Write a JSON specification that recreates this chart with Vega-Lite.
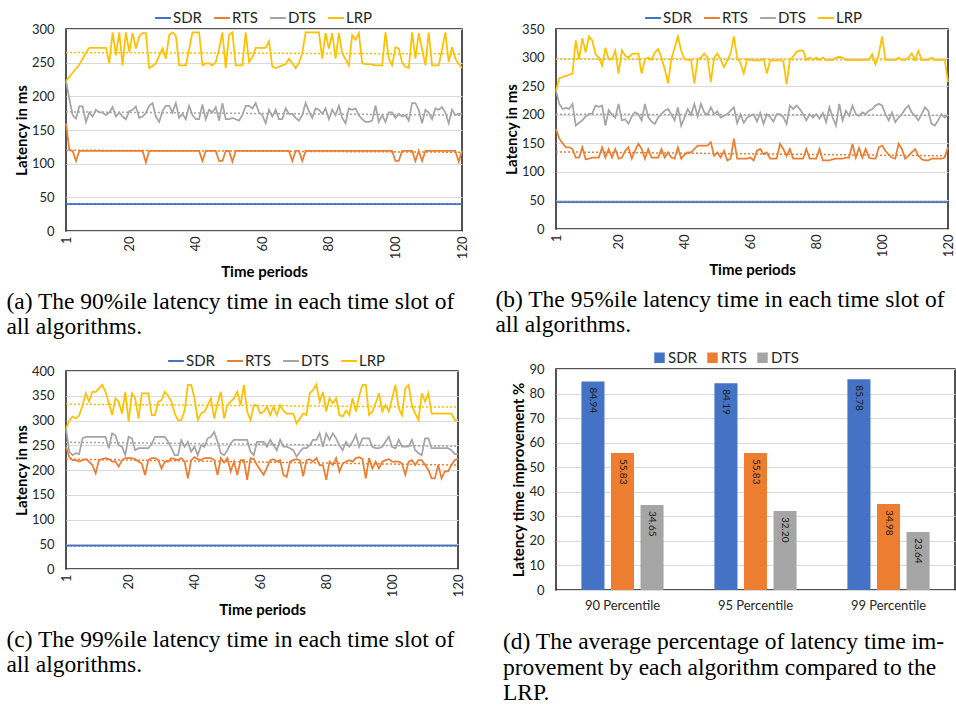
{
"$schema": "https://vega.github.io/schema/vega-lite/v6.json",
"background": "white",
"padding": {"left": 5, "top": 8, "right": 4, "bottom": 2},
"config": {
  "view": {"stroke": "#1a1a1a", "strokeWidth": 1.5},
  "axis": {"labelFont": "Lato", "labelFontSize": 13, "labelColor": "#262626", "titleFont": "Lato", "titleFontSize": 15, "titleFontWeight": "bold", "titleColor": "#000000", "domain": false, "ticks": false, "gridColor": "#d9d9d9", "gridWidth": 1, "labelFlush": false, "labelOverlap": false, "labelBound": false},
  "axisX": {"grid": false},
  "legend": {"labelFont": "Lato", "labelFontSize": 15, "labelColor": "#262626", "direction": "horizontal", "columnPadding": 8, "labelOffset": 1},
  "title": {"font": "Liberation Serif", "fontSize": 23.5, "fontWeight": "normal", "color": "#000000", "lineHeight": 25}
},
"datasets": {
  "a": [
{"t":1,"SDR":40,"RTS":160,"DTS":223,"LRP":223},{"t":2,"SDR":40,"RTS":120,"DTS":196,"LRP":229},{"t":3,"SDR":40,"RTS":119,"DTS":172,"LRP":235},{"t":4,"SDR":40,"RTS":104,"DTS":167,"LRP":241},{"t":5,"SDR":40,"RTS":119,"DTS":185,"LRP":247},
{"t":6,"SDR":40,"RTS":119,"DTS":185,"LRP":256},{"t":7,"SDR":40,"RTS":119,"DTS":162,"LRP":265},{"t":8,"SDR":40,"RTS":119,"DTS":176,"LRP":272},{"t":9,"SDR":40,"RTS":119,"DTS":170,"LRP":272},{"t":10,"SDR":40,"RTS":119,"DTS":180,"LRP":272},
{"t":11,"SDR":40,"RTS":119,"DTS":176,"LRP":272},{"t":12,"SDR":40,"RTS":119,"DTS":176,"LRP":272},{"t":13,"SDR":40,"RTS":119,"DTS":172,"LRP":272},{"t":14,"SDR":40,"RTS":119,"DTS":176,"LRP":249},{"t":15,"SDR":40,"RTS":119,"DTS":184,"LRP":295},
{"t":16,"SDR":40,"RTS":119,"DTS":170,"LRP":261},{"t":17,"SDR":40,"RTS":119,"DTS":176,"LRP":295},{"t":18,"SDR":40,"RTS":119,"DTS":170,"LRP":246},{"t":19,"SDR":40,"RTS":119,"DTS":166,"LRP":295},{"t":20,"SDR":40,"RTS":119,"DTS":178,"LRP":266},
{"t":21,"SDR":40,"RTS":119,"DTS":180,"LRP":294},{"t":22,"SDR":40,"RTS":119,"DTS":185,"LRP":271},{"t":23,"SDR":40,"RTS":119,"DTS":168,"LRP":289},{"t":24,"SDR":40,"RTS":119,"DTS":170,"LRP":294},{"t":25,"SDR":40,"RTS":102,"DTS":175,"LRP":294},
{"t":26,"SDR":40,"RTS":119,"DTS":186,"LRP":242},{"t":27,"SDR":40,"RTS":119,"DTS":190,"LRP":245},{"t":28,"SDR":40,"RTS":119,"DTS":170,"LRP":249},{"t":29,"SDR":40,"RTS":119,"DTS":162,"LRP":260},{"t":30,"SDR":40,"RTS":119,"DTS":178,"LRP":271},
{"t":31,"SDR":40,"RTS":119,"DTS":186,"LRP":256},{"t":32,"SDR":40,"RTS":119,"DTS":186,"LRP":291},{"t":33,"SDR":40,"RTS":119,"DTS":176,"LRP":295},{"t":34,"SDR":40,"RTS":119,"DTS":190,"LRP":290},{"t":35,"SDR":40,"RTS":119,"DTS":168,"LRP":246},
{"t":36,"SDR":40,"RTS":119,"DTS":174,"LRP":246},{"t":37,"SDR":40,"RTS":119,"DTS":166,"LRP":246},{"t":38,"SDR":40,"RTS":119,"DTS":186,"LRP":270},{"t":39,"SDR":40,"RTS":119,"DTS":172,"LRP":295},{"t":40,"SDR":40,"RTS":119,"DTS":166,"LRP":295},
{"t":41,"SDR":40,"RTS":119,"DTS":166,"LRP":295},{"t":42,"SDR":40,"RTS":104,"DTS":188,"LRP":246},{"t":43,"SDR":40,"RTS":119,"DTS":166,"LRP":249},{"t":44,"SDR":40,"RTS":119,"DTS":180,"LRP":249},{"t":45,"SDR":40,"RTS":119,"DTS":176,"LRP":246},
{"t":46,"SDR":40,"RTS":119,"DTS":184,"LRP":251},{"t":47,"SDR":40,"RTS":104,"DTS":164,"LRP":270},{"t":48,"SDR":40,"RTS":104,"DTS":190,"LRP":295},{"t":49,"SDR":40,"RTS":119,"DTS":166,"LRP":242},{"t":50,"SDR":40,"RTS":119,"DTS":166,"LRP":291},
{"t":51,"SDR":40,"RTS":103,"DTS":168,"LRP":295},{"t":52,"SDR":40,"RTS":119,"DTS":166,"LRP":246},{"t":53,"SDR":40,"RTS":119,"DTS":164,"LRP":246},{"t":54,"SDR":40,"RTS":119,"DTS":172,"LRP":246},{"t":55,"SDR":40,"RTS":119,"DTS":186,"LRP":295},
{"t":56,"SDR":40,"RTS":119,"DTS":186,"LRP":251},{"t":57,"SDR":40,"RTS":119,"DTS":182,"LRP":258},{"t":58,"SDR":40,"RTS":119,"DTS":190,"LRP":272},{"t":59,"SDR":40,"RTS":119,"DTS":176,"LRP":272},{"t":60,"SDR":40,"RTS":119,"DTS":172,"LRP":272},
{"t":61,"SDR":40,"RTS":119,"DTS":160,"LRP":272},{"t":62,"SDR":40,"RTS":119,"DTS":180,"LRP":282},{"t":63,"SDR":40,"RTS":119,"DTS":170,"LRP":244},{"t":64,"SDR":40,"RTS":119,"DTS":180,"LRP":242},{"t":65,"SDR":40,"RTS":119,"DTS":166,"LRP":244},
{"t":66,"SDR":40,"RTS":119,"DTS":166,"LRP":246},{"t":67,"SDR":40,"RTS":119,"DTS":182,"LRP":248},{"t":68,"SDR":40,"RTS":119,"DTS":174,"LRP":256},{"t":69,"SDR":40,"RTS":104,"DTS":174,"LRP":249},{"t":70,"SDR":40,"RTS":119,"DTS":168,"LRP":242},
{"t":71,"SDR":40,"RTS":119,"DTS":164,"LRP":250},{"t":72,"SDR":40,"RTS":104,"DTS":172,"LRP":264},{"t":73,"SDR":40,"RTS":119,"DTS":190,"LRP":295},{"t":74,"SDR":40,"RTS":119,"DTS":178,"LRP":295},{"t":75,"SDR":40,"RTS":119,"DTS":168,"LRP":295},
{"t":76,"SDR":40,"RTS":119,"DTS":182,"LRP":295},{"t":77,"SDR":40,"RTS":119,"DTS":180,"LRP":295},{"t":78,"SDR":40,"RTS":119,"DTS":174,"LRP":256},{"t":79,"SDR":40,"RTS":119,"DTS":182,"LRP":294},{"t":80,"SDR":40,"RTS":119,"DTS":166,"LRP":271},
{"t":81,"SDR":40,"RTS":119,"DTS":180,"LRP":294},{"t":82,"SDR":40,"RTS":119,"DTS":172,"LRP":256},{"t":83,"SDR":40,"RTS":119,"DTS":186,"LRP":294},{"t":84,"SDR":40,"RTS":119,"DTS":168,"LRP":264},{"t":85,"SDR":40,"RTS":119,"DTS":160,"LRP":255},
{"t":86,"SDR":40,"RTS":119,"DTS":182,"LRP":246},{"t":87,"SDR":40,"RTS":119,"DTS":180,"LRP":291},{"t":88,"SDR":40,"RTS":119,"DTS":182,"LRP":284},{"t":89,"SDR":40,"RTS":119,"DTS":172,"LRP":294},{"t":90,"SDR":40,"RTS":119,"DTS":166,"LRP":249},
{"t":91,"SDR":40,"RTS":119,"DTS":162,"LRP":248},{"t":92,"SDR":40,"RTS":119,"DTS":162,"LRP":248},{"t":93,"SDR":40,"RTS":119,"DTS":164,"LRP":247},{"t":94,"SDR":40,"RTS":119,"DTS":186,"LRP":246},{"t":95,"SDR":40,"RTS":119,"DTS":162,"LRP":246},
{"t":96,"SDR":40,"RTS":119,"DTS":172,"LRP":246},{"t":97,"SDR":40,"RTS":119,"DTS":162,"LRP":295},{"t":98,"SDR":40,"RTS":119,"DTS":176,"LRP":256},{"t":99,"SDR":40,"RTS":119,"DTS":176,"LRP":246},{"t":100,"SDR":40,"RTS":104,"DTS":168,"LRP":273},
{"t":101,"SDR":40,"RTS":104,"DTS":174,"LRP":271},{"t":102,"SDR":40,"RTS":119,"DTS":170,"LRP":250},{"t":103,"SDR":40,"RTS":119,"DTS":172,"LRP":244},{"t":104,"SDR":40,"RTS":119,"DTS":164,"LRP":242},{"t":105,"SDR":40,"RTS":119,"DTS":190,"LRP":295},
{"t":106,"SDR":40,"RTS":104,"DTS":190,"LRP":256},{"t":107,"SDR":40,"RTS":119,"DTS":180,"LRP":294},{"t":108,"SDR":40,"RTS":104,"DTS":160,"LRP":270},{"t":109,"SDR":40,"RTS":119,"DTS":180,"LRP":246},{"t":110,"SDR":40,"RTS":119,"DTS":176,"LRP":295},
{"t":111,"SDR":40,"RTS":119,"DTS":166,"LRP":246},{"t":112,"SDR":40,"RTS":119,"DTS":182,"LRP":246},{"t":113,"SDR":40,"RTS":119,"DTS":180,"LRP":246},{"t":114,"SDR":40,"RTS":119,"DTS":184,"LRP":270},{"t":115,"SDR":40,"RTS":119,"DTS":176,"LRP":295},
{"t":116,"SDR":40,"RTS":119,"DTS":160,"LRP":251},{"t":117,"SDR":40,"RTS":119,"DTS":180,"LRP":273},{"t":118,"SDR":40,"RTS":119,"DTS":172,"LRP":256},{"t":119,"SDR":40,"RTS":103,"DTS":174,"LRP":248},{"t":120,"SDR":40,"RTS":119,"DTS":174,"LRP":242}
  ],
  "b": [
{"t":1,"SDR":47,"RTS":175,"DTS":242,"LRP":242},{"t":2,"SDR":47,"RTS":158,"DTS":219,"LRP":264},{"t":3,"SDR":47,"RTS":150,"DTS":210,"LRP":266},{"t":4,"SDR":47,"RTS":143,"DTS":212,"LRP":268},{"t":5,"SDR":47,"RTS":143,"DTS":210,"LRP":270},
{"t":6,"SDR":47,"RTS":140,"DTS":219,"LRP":272},{"t":7,"SDR":47,"RTS":125,"DTS":181,"LRP":330},{"t":8,"SDR":47,"RTS":125,"DTS":186,"LRP":297},{"t":9,"SDR":47,"RTS":143,"DTS":190,"LRP":334},{"t":10,"SDR":47,"RTS":122,"DTS":197,"LRP":309},
{"t":11,"SDR":47,"RTS":123,"DTS":201,"LRP":337},{"t":12,"SDR":47,"RTS":125,"DTS":202,"LRP":330},{"t":13,"SDR":47,"RTS":125,"DTS":216,"LRP":306},{"t":14,"SDR":47,"RTS":125,"DTS":214,"LRP":300},{"t":15,"SDR":47,"RTS":143,"DTS":216,"LRP":286},
{"t":16,"SDR":47,"RTS":125,"DTS":181,"LRP":317},{"t":17,"SDR":47,"RTS":140,"DTS":208,"LRP":297},{"t":18,"SDR":47,"RTS":125,"DTS":200,"LRP":297},{"t":19,"SDR":47,"RTS":140,"DTS":195,"LRP":312},{"t":20,"SDR":47,"RTS":123,"DTS":219,"LRP":272},
{"t":21,"SDR":47,"RTS":125,"DTS":190,"LRP":313},{"t":22,"SDR":47,"RTS":137,"DTS":192,"LRP":303},{"t":23,"SDR":47,"RTS":143,"DTS":184,"LRP":300},{"t":24,"SDR":47,"RTS":123,"DTS":197,"LRP":306},{"t":25,"SDR":47,"RTS":137,"DTS":204,"LRP":307},
{"t":26,"SDR":47,"RTS":149,"DTS":201,"LRP":307},{"t":27,"SDR":47,"RTS":140,"DTS":190,"LRP":272},{"t":28,"SDR":47,"RTS":123,"DTS":219,"LRP":297},{"t":29,"SDR":47,"RTS":140,"DTS":196,"LRP":300},{"t":30,"SDR":47,"RTS":125,"DTS":188,"LRP":296},
{"t":31,"SDR":47,"RTS":125,"DTS":184,"LRP":309},{"t":32,"SDR":47,"RTS":125,"DTS":195,"LRP":315},{"t":33,"SDR":47,"RTS":140,"DTS":201,"LRP":300},{"t":34,"SDR":47,"RTS":125,"DTS":207,"LRP":280},{"t":35,"SDR":47,"RTS":134,"DTS":210,"LRP":255},
{"t":36,"SDR":47,"RTS":125,"DTS":201,"LRP":297},{"t":37,"SDR":47,"RTS":123,"DTS":190,"LRP":317},{"t":38,"SDR":47,"RTS":143,"DTS":213,"LRP":337},{"t":39,"SDR":47,"RTS":123,"DTS":181,"LRP":312},{"t":40,"SDR":47,"RTS":130,"DTS":195,"LRP":297},
{"t":41,"SDR":47,"RTS":134,"DTS":210,"LRP":296},{"t":42,"SDR":47,"RTS":134,"DTS":200,"LRP":296},{"t":43,"SDR":47,"RTS":140,"DTS":219,"LRP":255},{"t":44,"SDR":47,"RTS":146,"DTS":197,"LRP":297},{"t":45,"SDR":47,"RTS":146,"DTS":219,"LRP":300},
{"t":46,"SDR":47,"RTS":146,"DTS":204,"LRP":307},{"t":47,"SDR":47,"RTS":146,"DTS":200,"LRP":300},{"t":48,"SDR":47,"RTS":152,"DTS":213,"LRP":257},{"t":49,"SDR":47,"RTS":128,"DTS":201,"LRP":300},{"t":50,"SDR":47,"RTS":134,"DTS":206,"LRP":307},
{"t":51,"SDR":47,"RTS":125,"DTS":195,"LRP":296},{"t":52,"SDR":47,"RTS":137,"DTS":198,"LRP":283},{"t":53,"SDR":47,"RTS":120,"DTS":201,"LRP":295},{"t":54,"SDR":47,"RTS":123,"DTS":207,"LRP":307},{"t":55,"SDR":47,"RTS":158,"DTS":213,"LRP":337},
{"t":56,"SDR":47,"RTS":123,"DTS":185,"LRP":300},{"t":57,"SDR":47,"RTS":123,"DTS":201,"LRP":290},{"t":58,"SDR":47,"RTS":123,"DTS":186,"LRP":272},{"t":59,"SDR":47,"RTS":123,"DTS":195,"LRP":297},{"t":60,"SDR":47,"RTS":125,"DTS":198,"LRP":296},
{"t":61,"SDR":47,"RTS":120,"DTS":201,"LRP":295},{"t":62,"SDR":47,"RTS":137,"DTS":188,"LRP":295},{"t":63,"SDR":47,"RTS":140,"DTS":203,"LRP":295},{"t":64,"SDR":47,"RTS":131,"DTS":184,"LRP":298},{"t":65,"SDR":47,"RTS":134,"DTS":201,"LRP":272},
{"t":66,"SDR":47,"RTS":123,"DTS":196,"LRP":295},{"t":67,"SDR":47,"RTS":123,"DTS":188,"LRP":295},{"t":68,"SDR":47,"RTS":123,"DTS":201,"LRP":295},{"t":69,"SDR":47,"RTS":149,"DTS":201,"LRP":295},{"t":70,"SDR":47,"RTS":140,"DTS":196,"LRP":294},
{"t":71,"SDR":47,"RTS":128,"DTS":184,"LRP":253},{"t":72,"SDR":47,"RTS":140,"DTS":216,"LRP":296},{"t":73,"SDR":47,"RTS":123,"DTS":210,"LRP":302},{"t":74,"SDR":47,"RTS":123,"DTS":216,"LRP":310},{"t":75,"SDR":47,"RTS":123,"DTS":210,"LRP":312},
{"t":76,"SDR":47,"RTS":123,"DTS":201,"LRP":312},{"t":77,"SDR":47,"RTS":140,"DTS":190,"LRP":296},{"t":78,"SDR":47,"RTS":123,"DTS":201,"LRP":300},{"t":79,"SDR":47,"RTS":123,"DTS":195,"LRP":296},{"t":80,"SDR":47,"RTS":123,"DTS":201,"LRP":300},
{"t":81,"SDR":47,"RTS":140,"DTS":193,"LRP":296},{"t":82,"SDR":47,"RTS":120,"DTS":203,"LRP":300},{"t":83,"SDR":47,"RTS":120,"DTS":187,"LRP":295},{"t":84,"SDR":47,"RTS":120,"DTS":213,"LRP":296},{"t":85,"SDR":47,"RTS":122,"DTS":195,"LRP":296},
{"t":86,"SDR":47,"RTS":123,"DTS":181,"LRP":300},{"t":87,"SDR":47,"RTS":123,"DTS":219,"LRP":301},{"t":88,"SDR":47,"RTS":123,"DTS":190,"LRP":300},{"t":89,"SDR":47,"RTS":125,"DTS":207,"LRP":296},{"t":90,"SDR":47,"RTS":125,"DTS":198,"LRP":296},
{"t":91,"SDR":47,"RTS":149,"DTS":216,"LRP":296},{"t":92,"SDR":47,"RTS":125,"DTS":201,"LRP":296},{"t":93,"SDR":47,"RTS":142,"DTS":198,"LRP":296},{"t":94,"SDR":47,"RTS":125,"DTS":204,"LRP":296},{"t":95,"SDR":47,"RTS":140,"DTS":201,"LRP":296},
{"t":96,"SDR":47,"RTS":125,"DTS":207,"LRP":296},{"t":97,"SDR":47,"RTS":123,"DTS":210,"LRP":306},{"t":98,"SDR":47,"RTS":123,"DTS":216,"LRP":288},{"t":99,"SDR":47,"RTS":143,"DTS":219,"LRP":306},{"t":100,"SDR":47,"RTS":146,"DTS":216,"LRP":337},
{"t":101,"SDR":47,"RTS":137,"DTS":201,"LRP":296},{"t":102,"SDR":47,"RTS":130,"DTS":190,"LRP":296},{"t":103,"SDR":47,"RTS":125,"DTS":204,"LRP":296},{"t":104,"SDR":47,"RTS":123,"DTS":187,"LRP":296},{"t":105,"SDR":47,"RTS":149,"DTS":195,"LRP":300},
{"t":106,"SDR":47,"RTS":140,"DTS":201,"LRP":296},{"t":107,"SDR":47,"RTS":123,"DTS":210,"LRP":296},{"t":108,"SDR":47,"RTS":128,"DTS":216,"LRP":300},{"t":109,"SDR":47,"RTS":134,"DTS":204,"LRP":307},{"t":110,"SDR":47,"RTS":140,"DTS":198,"LRP":296},
{"t":111,"SDR":47,"RTS":128,"DTS":190,"LRP":312},{"t":112,"SDR":47,"RTS":122,"DTS":201,"LRP":296},{"t":113,"SDR":47,"RTS":120,"DTS":213,"LRP":296},{"t":114,"SDR":47,"RTS":120,"DTS":207,"LRP":296},{"t":115,"SDR":47,"RTS":123,"DTS":184,"LRP":300},
{"t":116,"SDR":47,"RTS":123,"DTS":181,"LRP":296},{"t":117,"SDR":47,"RTS":123,"DTS":190,"LRP":296},{"t":118,"SDR":47,"RTS":123,"DTS":201,"LRP":296},{"t":119,"SDR":47,"RTS":125,"DTS":195,"LRP":296},{"t":120,"SDR":47,"RTS":143,"DTS":200,"LRP":257}
  ],
  "c": [
{"t":1,"SDR":47,"RTS":247,"DTS":284,"LRP":284},{"t":2,"SDR":47,"RTS":226,"DTS":237,"LRP":300},{"t":3,"SDR":47,"RTS":220,"DTS":230,"LRP":308},{"t":4,"SDR":47,"RTS":220,"DTS":234,"LRP":304},{"t":5,"SDR":47,"RTS":217,"DTS":232,"LRP":310},
{"t":6,"SDR":47,"RTS":220,"DTS":264,"LRP":330},{"t":7,"SDR":47,"RTS":222,"DTS":267,"LRP":355},{"t":8,"SDR":47,"RTS":217,"DTS":267,"LRP":338},{"t":9,"SDR":47,"RTS":210,"DTS":267,"LRP":358},{"t":10,"SDR":47,"RTS":193,"DTS":267,"LRP":358},
{"t":11,"SDR":47,"RTS":220,"DTS":267,"LRP":365},{"t":12,"SDR":47,"RTS":222,"DTS":267,"LRP":372},{"t":13,"SDR":47,"RTS":224,"DTS":267,"LRP":358},{"t":14,"SDR":47,"RTS":222,"DTS":244,"LRP":335},{"t":15,"SDR":47,"RTS":217,"DTS":274,"LRP":311},
{"t":16,"SDR":47,"RTS":217,"DTS":270,"LRP":345},{"t":17,"SDR":47,"RTS":207,"DTS":250,"LRP":338},{"t":18,"SDR":47,"RTS":220,"DTS":247,"LRP":314},{"t":19,"SDR":47,"RTS":224,"DTS":230,"LRP":358},{"t":20,"SDR":47,"RTS":224,"DTS":267,"LRP":298},
{"t":21,"SDR":47,"RTS":224,"DTS":264,"LRP":355},{"t":22,"SDR":47,"RTS":222,"DTS":240,"LRP":345},{"t":23,"SDR":47,"RTS":217,"DTS":244,"LRP":304},{"t":24,"SDR":47,"RTS":213,"DTS":244,"LRP":355},{"t":25,"SDR":47,"RTS":190,"DTS":244,"LRP":355},
{"t":26,"SDR":47,"RTS":220,"DTS":244,"LRP":355},{"t":27,"SDR":47,"RTS":224,"DTS":252,"LRP":311},{"t":28,"SDR":47,"RTS":224,"DTS":267,"LRP":311},{"t":29,"SDR":47,"RTS":220,"DTS":267,"LRP":338},{"t":30,"SDR":47,"RTS":203,"DTS":267,"LRP":341},
{"t":31,"SDR":47,"RTS":217,"DTS":267,"LRP":358},{"t":32,"SDR":47,"RTS":217,"DTS":257,"LRP":350},{"t":33,"SDR":47,"RTS":224,"DTS":244,"LRP":338},{"t":34,"SDR":47,"RTS":222,"DTS":230,"LRP":314},{"t":35,"SDR":47,"RTS":220,"DTS":230,"LRP":301},
{"t":36,"SDR":47,"RTS":224,"DTS":260,"LRP":301},{"t":37,"SDR":47,"RTS":217,"DTS":247,"LRP":320},{"t":38,"SDR":47,"RTS":183,"DTS":257,"LRP":372},{"t":39,"SDR":47,"RTS":220,"DTS":237,"LRP":372},{"t":40,"SDR":47,"RTS":226,"DTS":247,"LRP":345},
{"t":41,"SDR":47,"RTS":222,"DTS":230,"LRP":301},{"t":42,"SDR":47,"RTS":220,"DTS":250,"LRP":314},{"t":43,"SDR":47,"RTS":224,"DTS":247,"LRP":318},{"t":44,"SDR":47,"RTS":224,"DTS":264,"LRP":330},{"t":45,"SDR":47,"RTS":224,"DTS":267,"LRP":345},
{"t":46,"SDR":47,"RTS":220,"DTS":277,"LRP":304},{"t":47,"SDR":47,"RTS":190,"DTS":257,"LRP":335},{"t":48,"SDR":47,"RTS":224,"DTS":234,"LRP":358},{"t":49,"SDR":47,"RTS":215,"DTS":230,"LRP":304},{"t":50,"SDR":47,"RTS":224,"DTS":240,"LRP":331},
{"t":51,"SDR":47,"RTS":197,"DTS":254,"LRP":338},{"t":52,"SDR":47,"RTS":217,"DTS":261,"LRP":345},{"t":53,"SDR":47,"RTS":190,"DTS":261,"LRP":358},{"t":54,"SDR":47,"RTS":220,"DTS":261,"LRP":331},{"t":55,"SDR":47,"RTS":220,"DTS":261,"LRP":372},
{"t":56,"SDR":47,"RTS":180,"DTS":261,"LRP":318},{"t":57,"SDR":47,"RTS":224,"DTS":237,"LRP":301},{"t":58,"SDR":47,"RTS":222,"DTS":230,"LRP":331},{"t":59,"SDR":47,"RTS":210,"DTS":257,"LRP":330},{"t":60,"SDR":47,"RTS":200,"DTS":257,"LRP":314},
{"t":61,"SDR":47,"RTS":190,"DTS":257,"LRP":318},{"t":62,"SDR":47,"RTS":205,"DTS":247,"LRP":328},{"t":63,"SDR":47,"RTS":220,"DTS":261,"LRP":311},{"t":64,"SDR":47,"RTS":222,"DTS":250,"LRP":328},{"t":65,"SDR":47,"RTS":217,"DTS":240,"LRP":311},
{"t":66,"SDR":47,"RTS":220,"DTS":261,"LRP":331},{"t":67,"SDR":47,"RTS":190,"DTS":247,"LRP":320},{"t":68,"SDR":47,"RTS":186,"DTS":247,"LRP":314},{"t":69,"SDR":47,"RTS":217,"DTS":244,"LRP":314},{"t":70,"SDR":47,"RTS":220,"DTS":240,"LRP":314},
{"t":71,"SDR":47,"RTS":222,"DTS":227,"LRP":294},{"t":72,"SDR":47,"RTS":220,"DTS":237,"LRP":304},{"t":73,"SDR":47,"RTS":187,"DTS":244,"LRP":314},{"t":74,"SDR":47,"RTS":220,"DTS":244,"LRP":311},{"t":75,"SDR":47,"RTS":222,"DTS":250,"LRP":355},
{"t":76,"SDR":47,"RTS":217,"DTS":261,"LRP":362},{"t":77,"SDR":47,"RTS":224,"DTS":261,"LRP":372},{"t":78,"SDR":47,"RTS":210,"DTS":274,"LRP":338},{"t":79,"SDR":47,"RTS":210,"DTS":247,"LRP":358},{"t":80,"SDR":47,"RTS":180,"DTS":274,"LRP":318},
{"t":81,"SDR":47,"RTS":217,"DTS":261,"LRP":345},{"t":82,"SDR":47,"RTS":210,"DTS":274,"LRP":335},{"t":83,"SDR":47,"RTS":224,"DTS":264,"LRP":345},{"t":84,"SDR":47,"RTS":197,"DTS":250,"LRP":311},{"t":85,"SDR":47,"RTS":213,"DTS":240,"LRP":308},
{"t":86,"SDR":47,"RTS":217,"DTS":257,"LRP":320},{"t":87,"SDR":47,"RTS":220,"DTS":247,"LRP":311},{"t":88,"SDR":47,"RTS":217,"DTS":257,"LRP":345},{"t":89,"SDR":47,"RTS":224,"DTS":271,"LRP":318},{"t":90,"SDR":47,"RTS":226,"DTS":247,"LRP":350},
{"t":91,"SDR":47,"RTS":222,"DTS":264,"LRP":372},{"t":92,"SDR":47,"RTS":183,"DTS":264,"LRP":372},{"t":93,"SDR":47,"RTS":224,"DTS":264,"LRP":311},{"t":94,"SDR":47,"RTS":203,"DTS":247,"LRP":318},{"t":95,"SDR":47,"RTS":217,"DTS":244,"LRP":335},
{"t":96,"SDR":47,"RTS":203,"DTS":244,"LRP":355},{"t":97,"SDR":47,"RTS":217,"DTS":247,"LRP":318},{"t":98,"SDR":47,"RTS":220,"DTS":257,"LRP":331},{"t":99,"SDR":47,"RTS":222,"DTS":267,"LRP":318},{"t":100,"SDR":47,"RTS":217,"DTS":247,"LRP":345},
{"t":101,"SDR":47,"RTS":217,"DTS":244,"LRP":372},{"t":102,"SDR":47,"RTS":217,"DTS":261,"LRP":325},{"t":103,"SDR":47,"RTS":213,"DTS":247,"LRP":311},{"t":104,"SDR":47,"RTS":190,"DTS":247,"LRP":365},{"t":105,"SDR":47,"RTS":217,"DTS":247,"LRP":372},
{"t":106,"SDR":47,"RTS":220,"DTS":261,"LRP":331},{"t":107,"SDR":47,"RTS":210,"DTS":240,"LRP":314},{"t":108,"SDR":47,"RTS":220,"DTS":234,"LRP":301},{"t":109,"SDR":47,"RTS":220,"DTS":230,"LRP":355},{"t":110,"SDR":47,"RTS":210,"DTS":264,"LRP":338},
{"t":111,"SDR":47,"RTS":200,"DTS":264,"LRP":355},{"t":112,"SDR":47,"RTS":183,"DTS":244,"LRP":314},{"t":113,"SDR":47,"RTS":183,"DTS":244,"LRP":314},{"t":114,"SDR":47,"RTS":210,"DTS":244,"LRP":314},{"t":115,"SDR":47,"RTS":183,"DTS":244,"LRP":314},
{"t":116,"SDR":47,"RTS":197,"DTS":244,"LRP":314},{"t":117,"SDR":47,"RTS":197,"DTS":244,"LRP":314},{"t":118,"SDR":47,"RTS":210,"DTS":240,"LRP":314},{"t":119,"SDR":47,"RTS":220,"DTS":232,"LRP":301},{"t":120,"SDR":47,"RTS":222,"DTS":232,"LRP":301}
  ],
  "ta": [
{"t":1,"s":"SDR","v":40},{"t":120,"s":"SDR","v":40},{"t":1,"s":"RTS","v":120},{"t":120,"s":"RTS","v":117},
{"t":1,"s":"DTS","v":177},{"t":120,"s":"DTS","v":172},{"t":1,"s":"LRP","v":265},{"t":120,"s":"LRP","v":263}
  ],
  "tb": [
{"t":1,"s":"SDR","v":47},{"t":120,"s":"SDR","v":47},{"t":1,"s":"RTS","v":135},{"t":120,"s":"RTS","v":128},
{"t":1,"s":"DTS","v":201},{"t":120,"s":"DTS","v":199},{"t":1,"s":"LRP","v":297},{"t":120,"s":"LRP","v":296}
  ],
  "tc": [
{"t":1,"s":"SDR","v":47},{"t":120,"s":"SDR","v":47},{"t":1,"s":"RTS","v":222},{"t":120,"s":"RTS","v":210},
{"t":1,"s":"DTS","v":256},{"t":120,"s":"DTS","v":248},{"t":1,"s":"LRP","v":333},{"t":120,"s":"LRP","v":327}
  ],
  "d": [
{"g":"90 Percentile","s":"SDR","v":84.94},{"g":"90 Percentile","s":"RTS","v":55.83},{"g":"90 Percentile","s":"DTS","v":34.65},
{"g":"95 Percentile","s":"SDR","v":84.19},{"g":"95 Percentile","s":"RTS","v":55.83},{"g":"95 Percentile","s":"DTS","v":32.20},
{"g":"99 Percentile","s":"SDR","v":85.78},{"g":"99 Percentile","s":"RTS","v":34.98},{"g":"99 Percentile","s":"DTS","v":23.64}
  ]
},
"resolve": {"scale": {"color": "independent", "x": "independent", "y": "independent"}, "legend": {"color": "independent"}},
"spacing": 24,
"hconcat": [
  {
    "spacing": 12,
    "resolve": {"scale": {"color": "independent", "x": "independent", "y": "independent"}, "legend": {"color": "independent"}},
    "vconcat": [
      {
        "width": 396, "height": 202,
        "title": {"text": ["(a) The 90%ile latency time in each time slot of", "all algorithms."], "orient": "bottom", "anchor": "start", "offset": 10, "dx": -8},
        "encoding": {
          "x": {"field": "t", "type": "quantitative", "scale": {"domain": [1, 120], "nice": false, "zero": false}, "axis": {"values": [1, 20, 40, 60, 80, 100, 120], "labelAngle": -90, "labelPadding": 5, "title": "Time periods", "titlePadding": 6}},
          "y": {"field": "v", "type": "quantitative", "scale": {"domain": [0, 300], "nice": false}, "axis": {"values": [0, 50, 100, 150, 200, 250, 300], "title": "Latency in ms", "labelPadding": 12, "titlePadding": 2}},
          "color": {"field": "s", "type": "nominal", "scale": {"domain": ["SDR", "RTS", "DTS", "LRP"], "range": ["#4472C4", "#ED7D31", "#A5A5A5", "#FFC000"]}, "legend": {"title": null, "orient": "none", "legendX": 88, "legendY": -20, "symbolType": "stroke", "symbolSize": 250, "symbolStrokeWidth": 2, "symbolDash": [1, 0]}}
        },
        "layer": [
          {"data": {"name": "a"}, "transform": [{"fold": ["SDR", "RTS", "DTS", "LRP"], "as": ["s", "v"]}], "mark": {"type": "line", "strokeWidth": 1.75}, "encoding": {}},
          {"data": {"name": "ta"}, "mark": {"type": "line", "strokeWidth": 1.5, "strokeDash": [2, 2]}, "encoding": {}}
        ]
      },
      {
        "width": 392, "height": 198,
        "title": {"text": ["(c) The 99%ile latency time in each time slot of", "all algorithms."], "orient": "bottom", "anchor": "start", "offset": 10, "dx": -8},
        "encoding": {
          "x": {"field": "t", "type": "quantitative", "scale": {"domain": [1, 120], "nice": false, "zero": false}, "axis": {"values": [1, 20, 40, 60, 80, 100, 120], "labelAngle": -90, "labelPadding": 5, "title": "Time periods", "titlePadding": 6}},
          "y": {"field": "v", "type": "quantitative", "scale": {"domain": [0, 400], "nice": false}, "axis": {"values": [0, 50, 100, 150, 200, 250, 300, 350, 400], "title": "Latency in ms", "labelPadding": 12, "titlePadding": 2}},
          "color": {"field": "s", "type": "nominal", "scale": {"domain": ["SDR", "RTS", "DTS", "LRP"], "range": ["#4472C4", "#ED7D31", "#A5A5A5", "#FFC000"]}, "legend": {"title": null, "orient": "none", "legendX": 101, "legendY": -19, "symbolType": "stroke", "symbolSize": 250, "symbolStrokeWidth": 2, "symbolDash": [1, 0]}}
        },
        "layer": [
          {"data": {"name": "c"}, "transform": [{"fold": ["SDR", "RTS", "DTS", "LRP"], "as": ["s", "v"]}], "mark": {"type": "line", "strokeWidth": 1.75}, "encoding": {}},
          {"data": {"name": "tc"}, "mark": {"type": "line", "strokeWidth": 1.5, "strokeDash": [2, 2]}, "encoding": {}}
        ]
      }
    ]
  },
  {
    "spacing": 12,
    "resolve": {"scale": {"color": "independent", "x": "independent", "y": "independent"}, "legend": {"color": "independent"}},
    "vconcat": [
      {
        "width": 392, "height": 200,
        "title": {"text": ["(b) The 95%ile latency time in each time slot of", "all algorithms."], "orient": "bottom", "anchor": "start", "offset": 10, "dx": -9},
        "encoding": {
          "x": {"field": "t", "type": "quantitative", "scale": {"domain": [1, 120], "nice": false, "zero": false}, "axis": {"values": [1, 20, 40, 60, 80, 100, 120], "labelAngle": -90, "labelPadding": 5, "title": "Time periods", "titlePadding": 6}},
          "y": {"field": "v", "type": "quantitative", "scale": {"domain": [0, 350], "nice": false}, "axis": {"values": [0, 50, 100, 150, 200, 250, 300, 350], "title": "Latency in ms", "labelPadding": 12, "titlePadding": 2}},
          "color": {"field": "s", "type": "nominal", "scale": {"domain": ["SDR", "RTS", "DTS", "LRP"], "range": ["#4472C4", "#ED7D31", "#A5A5A5", "#FFC000"]}, "legend": {"title": null, "orient": "none", "legendX": 88, "legendY": -20, "symbolType": "stroke", "symbolSize": 250, "symbolStrokeWidth": 2, "symbolDash": [1, 0]}}
        },
        "layer": [
          {"data": {"name": "b"}, "transform": [{"fold": ["SDR", "RTS", "DTS", "LRP"], "as": ["s", "v"]}], "mark": {"type": "line", "strokeWidth": 1.75}, "encoding": {}},
          {"data": {"name": "tb"}, "mark": {"type": "line", "strokeWidth": 1.5, "strokeDash": [2, 2]}, "encoding": {}}
        ]
      },
      {
        "width": 399, "height": 221,
        "data": {"name": "d"},
        "title": {"text": ["(d) The average percentage of latency time im-", "provement by each algorithm compared to the", "LRP."], "orient": "bottom", "anchor": "start", "offset": 18, "dx": -9, "lineHeight": 25.5},
        "encoding": {
          "x": {"field": "g", "type": "nominal", "sort": null, "scale": {"paddingInner": 0, "paddingOuter": 0}, "axis": {"title": null, "labelAngle": 0, "labelPadding": 9}},
          "xOffset": {"field": "s", "type": "nominal", "sort": ["SDR", "RTS", "DTS"], "scale": {"paddingInner": 0.22, "paddingOuter": 0.86}},
          "y": {"field": "v", "type": "quantitative", "scale": {"domain": [0, 90], "nice": false}, "axis": {"values": [0, 10, 20, 30, 40, 50, 60, 70, 80, 90], "title": "Latency time improvement %", "labelPadding": 12, "titlePadding": 2}}
        },
        "layer": [
          {
            "mark": {"type": "bar"},
            "encoding": {
              "color": {"field": "s", "type": "nominal", "scale": {"domain": ["SDR", "RTS", "DTS"], "range": ["#4472C4", "#ED7D31", "#A5A5A5"]}, "legend": {"title": null, "orient": "none", "legendX": 96, "legendY": -19, "symbolType": "square", "symbolSize": 110, "symbolOpacity": 1}}
            }
          },
          {
            "mark": {"type": "text", "angle": 90, "align": "left", "baseline": "middle", "dx": 6, "font": "Lato", "fontSize": 10, "color": "#1a1a1a"},
            "encoding": {"text": {"field": "v", "type": "quantitative", "format": ".2f"}}
          }
        ]
      }
    ]
  }
]
}
